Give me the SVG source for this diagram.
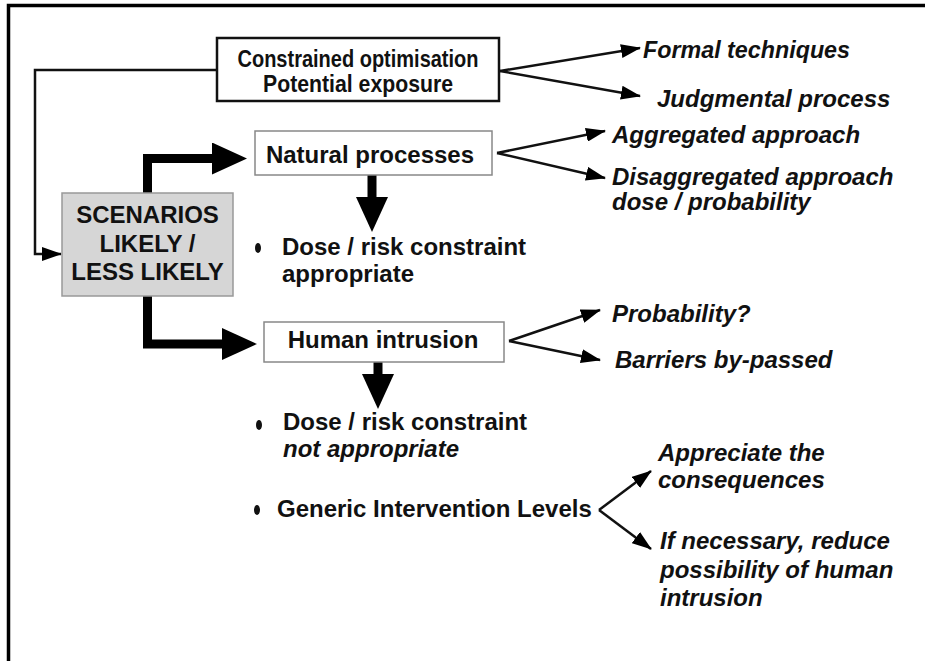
<svg xmlns="http://www.w3.org/2000/svg" width="925" height="661" viewBox="0 0 925 661">
<style>
.t{font-family:"Liberation Sans",Arial,sans-serif;font-size:24px;font-weight:bold;fill:#111}
.i{font-style:italic}
.c{text-anchor:middle}
.thin{fill:none;stroke:#111;stroke-width:2.5}
.thick{fill:none;stroke:#000;stroke-width:9}
.dot{fill:#111}
</style>
<defs>
<marker id="ah" viewBox="0 0 20 14" refX="19" refY="7" markerWidth="20" markerHeight="14" markerUnits="userSpaceOnUse" orient="auto"><path d="M0,0 L20,7 L0,14 z" fill="#000"/></marker>
<marker id="bh" viewBox="0 0 35 32" refX="1" refY="16" markerWidth="35" markerHeight="32" markerUnits="userSpaceOnUse" orient="auto"><path d="M0,0 L35,16 L0,32 z" fill="#000"/></marker>
</defs>
<rect width="925" height="661" fill="#fff"/>
<path d="M8.5,661 V5.5 H925" fill="none" stroke="#000" stroke-width="3.5"/>

<g id="connectors">
<path class="thin" d="M217,70 H35 V254 H61" stroke-width="3" marker-end="url(#ah)"/>
<path class="thin" d="M500,71 L640,48" marker-end="url(#ah)"/>
<path class="thin" d="M500,71 L640,96" marker-end="url(#ah)"/>
<path class="thick" d="M147.5,193 V158.5 H213" marker-end="url(#bh)"/>
<path class="thick" d="M147.5,296 V344 H223" marker-end="url(#bh)"/>
<path class="thick" d="M372,175 V198" marker-end="url(#bh)"/>
<path class="thick" d="M378,362 V375" marker-end="url(#bh)"/>
<path class="thin" d="M497,153 L605,131" marker-end="url(#ah)"/>
<path class="thin" d="M497,153 L605,178" marker-end="url(#ah)"/>
<path class="thin" d="M509,341 L600,310" marker-end="url(#ah)"/>
<path class="thin" d="M509,341 L600,360" marker-end="url(#ah)"/>
<path class="thin" d="M599,510 L651,471" marker-end="url(#ah)"/>
<path class="thin" d="M599,510 L651,549" marker-end="url(#ah)"/>
</g>

<g id="constrained">
<rect x="217" y="38" width="282" height="63" fill="#fff" stroke="#111" stroke-width="2.5"/>
<text class="t c" x="358" y="67" textLength="241" lengthAdjust="spacingAndGlyphs">Constrained optimisation</text>
<text class="t c" x="358" y="92" textLength="190" lengthAdjust="spacingAndGlyphs">Potential exposure</text>
</g>
<g id="formal"><text class="t i" x="643" y="58" textLength="207" lengthAdjust="spacingAndGlyphs">Formal techniques</text></g>
<g id="judgmental"><text class="t i" x="657" y="107">Judgmental process</text></g>

<g id="scenarios">
<rect x="62" y="193" width="171" height="103" fill="#d6d6d6" stroke="#999" stroke-width="1.5"/>
<text class="t c" x="147.5" y="223">SCENARIOS</text>
<text class="t c" x="147.5" y="252">LIKELY /</text>
<text class="t c" x="147.5" y="280">LESS LIKELY</text>
</g>

<g id="natural">
<rect x="255" y="131" width="237" height="44" fill="#fff" stroke="#888" stroke-width="1.5"/>
<text class="t c" x="370" y="163">Natural processes</text>
</g>
<g id="aggregated"><text class="t i" x="612" y="143">Aggregated approach</text></g>
<g id="disaggregated">
<text class="t i" x="612" y="185">Disaggregated approach</text>
<text class="t i" x="612" y="210">dose / probability</text>
</g>
<g id="dose1">
<ellipse class="dot" cx="258" cy="248" rx="3" ry="5"/>
<text class="t" x="282" y="255">Dose / risk constraint</text>
<text class="t" x="282" y="282">appropriate</text>
</g>

<g id="human">
<rect x="264" y="322" width="240" height="40" fill="#fff" stroke="#888" stroke-width="1.5"/>
<text class="t c" x="383" y="348">Human intrusion</text>
</g>
<g id="probability"><text class="t i" x="612" y="322">Probability?</text></g>
<g id="barriers"><text class="t i" x="615" y="368">Barriers by-passed</text></g>
<g id="dose2">
<ellipse class="dot" cx="259" cy="425" rx="3" ry="5"/>
<text class="t" x="283" y="430">Dose / risk constraint</text>
<text class="t i" x="283" y="457">not appropriate</text>
</g>
<g id="generic">
<ellipse class="dot" cx="257" cy="510" rx="3" ry="5"/>
<text class="t" x="277" y="517">Generic Intervention Levels</text>
</g>
<g id="appreciate">
<text class="t i" x="658" y="461">Appreciate the</text>
<text class="t i" x="658" y="488">consequences</text>
</g>
<g id="reduce">
<text class="t i" x="660" y="549">If necessary, reduce</text>
<text class="t i" x="660" y="578">possibility of human</text>
<text class="t i" x="660" y="606">intrusion</text>
</g>
</svg>
